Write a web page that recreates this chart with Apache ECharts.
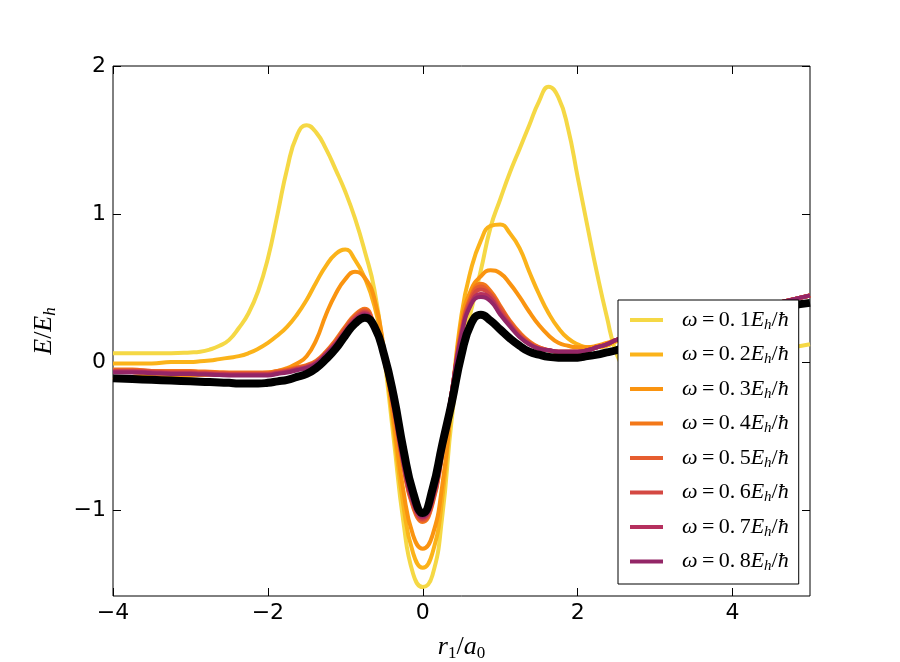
<!DOCTYPE html>
<html>
<head>
	<meta http-equiv="Content-Type" content="text/html;charset=utf-8">
	<title>E / Eh vs r1 / a0</title>
	<style>
		html, body { margin: 0; padding: 0; background: #fff; }
		#chart { width: 900px; height: 662px; }
	</style>
</head>
<body>
<div id="chart"></div>

<script src="https://cdn.jsdelivr.net/npm/echarts@6/dist/echarts.min.js"></script>
<script>
	// r1/a0 grid shared by all curves (finer between -3 and 3)
	var xs = [-4,-3.75,-3.5,-3.25,-3,
		-2.875,-2.75,-2.625,
		-2.5,-2.375,-2.25,-2.125,-2,-1.875,-1.75,-1.625,-1.5,-1.375,-1.25,-1.125,-1,-0.875,-0.75,-0.625,-0.5,-0.375,-0.25,-0.125,
		0,
		0.125,0.25,0.375,0.5,0.625,0.75,0.875,1,1.125,1.25,1.375,1.5,1.625,1.75,1.875,2,2.125,2.25,2.375,2.5,
		2.625,2.75,2.875,
		3,3.25,3.5,3.75,4,4.25,4.5,4.75,5];

	var w01 = [0.06,0.06,0.06,0.06,0.065,
		0.07,0.085,0.11,
		0.15,0.23,0.33,0.48,0.70,1.00,1.31,1.53,1.60,1.55,1.44,1.30,1.15,0.97,0.75,0.49,0.04,-0.52,-1.08,-1.43,
		-1.52,
		-1.44,-1.05,-0.38,0.08,0.35,0.62,0.91,1.10,1.28,1.44,1.60,1.76,1.86,1.79,1.58,1.25,0.92,0.60,0.31,0.06,
		-0.04,-0.07,-0.06,
		-0.04,-0.01,0.02,0.04,0.06,0.08,0.09,0.10,0.12];
	var w02 = [-0.01,-0.01,-0.01,0.0,0.0,
		0.005,0.01,0.02,
		0.03,0.04,0.06,0.09,0.13,0.18,0.24,0.32,0.42,0.54,0.65,0.73,0.76,0.69,0.57,0.38,0.06,-0.45,-0.97,-1.29,
		-1.39,
		-1.29,-0.93,-0.25,0.32,0.63,0.82,0.92,0.93,0.87,0.77,0.61,0.46,0.33,0.23,0.16,0.12,0.10,0.10,0.11,0.14,
		0.16,0.18,0.195,
		0.21,0.24,0.27,0.30,0.33,0.36,0.39,0.42,0.45];
	var w03 = [-0.12,-0.10,-0.09,-0.09,-0.09,
		-0.088,-0.085,-0.083,
		-0.08,-0.08,-0.08,-0.075,-0.07,-0.06,-0.04,-0.01,0.04,0.15,0.32,0.46,0.56,0.61,0.57,0.43,0.08,-0.40,-0.87,-1.17,
		-1.26,
		-1.17,-0.84,-0.27,0.27,0.49,0.58,0.62,0.60,0.53,0.44,0.34,0.25,0.18,0.13,0.11,0.10,0.10,0.11,0.13,0.15,
		0.165,0.18,0.195,
		0.21,0.24,0.27,0.30,0.33,0.36,0.39,0.42,0.45];
	var w04 = [-0.05,-0.05,-0.06,-0.06,-0.06,
		-0.063,-0.065,-0.068,
		-0.07,-0.07,-0.07,-0.07,-0.07,-0.06,-0.05,-0.035,-0.02,0.01,0.07,0.15,0.24,0.32,0.36,0.24,0.02,-0.33,-0.71,-0.98,
		-1.08,
		-0.96,-0.63,-0.20,0.22,0.45,0.53,0.48,0.38,0.28,0.20,0.14,0.10,0.08,0.07,0.07,0.07,0.08,0.10,0.12,0.15,
		0.165,0.18,0.195,
		0.21,0.24,0.27,0.30,0.33,0.36,0.39,0.42,0.45];
	var w05 = [-0.055,-0.055,-0.06,-0.065,-0.065,
		-0.068,-0.07,-0.073,
		-0.075,-0.075,-0.075,-0.075,-0.075,-0.065,-0.055,-0.04,-0.025,0.005,0.065,0.14,0.23,0.31,0.35,0.24,0.02,-0.32,-0.70,-0.97,
		-1.07,
		-0.95,-0.62,-0.20,0.21,0.44,0.51,0.46,0.37,0.27,0.19,0.13,0.10,0.08,0.07,0.07,0.07,0.08,0.10,0.12,0.15,
		0.165,0.18,0.195,
		0.21,0.24,0.27,0.30,0.33,0.36,0.39,0.42,0.45];
	var w06 = [-0.06,-0.06,-0.065,-0.07,-0.07,
		-0.073,-0.075,-0.078,
		-0.08,-0.08,-0.08,-0.08,-0.08,-0.07,-0.06,-0.045,-0.03,0.0,0.06,0.13,0.22,0.30,0.34,0.23,0.02,-0.31,-0.69,-0.96,
		-1.06,
		-0.94,-0.61,-0.20,0.20,0.42,0.49,0.45,0.35,0.26,0.18,0.13,0.09,0.08,0.07,0.07,0.07,0.08,0.10,0.12,0.15,
		0.165,0.18,0.195,
		0.21,0.24,0.27,0.30,0.33,0.36,0.39,0.42,0.45];
	var w07 = [-0.065,-0.065,-0.07,-0.075,-0.075,
		-0.078,-0.08,-0.083,
		-0.085,-0.085,-0.085,-0.085,-0.085,-0.075,-0.065,-0.05,-0.035,-0.005,0.055,0.125,0.21,0.29,0.33,0.23,0.02,-0.30,-0.68,-0.95,
		-1.05,
		-0.93,-0.60,-0.20,0.19,0.40,0.46,0.43,0.33,0.25,0.17,0.12,0.09,0.08,0.07,0.07,0.07,0.08,0.10,0.12,0.15,
		0.165,0.18,0.195,
		0.21,0.24,0.27,0.30,0.33,0.36,0.39,0.42,0.45];
	var w08 = [-0.07,-0.07,-0.075,-0.08,-0.08,
		-0.083,-0.085,-0.088,
		-0.09,-0.09,-0.09,-0.09,-0.09,-0.08,-0.07,-0.055,-0.04,-0.01,0.05,0.12,0.20,0.28,0.32,0.22,0.02,-0.29,-0.67,-0.94,
		-1.04,
		-0.92,-0.59,-0.20,0.18,0.39,0.44,0.41,0.32,0.24,0.17,0.12,0.09,0.08,0.07,0.07,0.07,0.08,0.10,0.12,0.15,
		0.165,0.18,0.195,
		0.21,0.24,0.27,0.30,0.33,0.36,0.39,0.42,0.45];
	// black reference curve (no legend entry)
	var wRef = [-0.11,-0.115,-0.12,-0.125,-0.13,
		-0.133,-0.135,-0.138,
		-0.14,-0.145,-0.145,-0.145,-0.14,-0.13,-0.12,-0.10,-0.08,-0.04,0.02,0.09,0.18,0.26,0.30,0.24,0.05,-0.23,-0.59,-0.88,
		-1.02,
		-0.86,-0.56,-0.27,0.05,0.26,0.32,0.28,0.22,0.16,0.11,0.07,0.05,0.035,0.03,0.03,0.03,0.04,0.05,0.065,0.08,
		0.105,0.13,0.15,
		0.17,0.20,0.23,0.26,0.29,0.32,0.35,0.38,0.40];

	var omegas = ['0.1','0.2','0.3','0.4','0.5','0.6','0.7','0.8'];
	var curves = [w01, w02, w03, w04, w05, w06, w07, w08];
	var colors = ['#f5d845','#fbb31a','#fa9410','#f37819','#e65d2f','#d44842','#b5305e','#932667'];

	var xTicks = [-4, -2, 0, 2, 4];
	var yTicks = [-1, 0, 1, 2];

	function pairs(ys) {
		var out = [];
		for (var i = 0; i < xs.length; i++) {
			out.push([xs[i], ys[i]]);
		}
		return out;
	}

	function minus(v) {
		return String(v).replace('-', '\u2212');
	}

	var series = [];
	for (var i = 0; i < curves.length; i++) {
		series.push({
			name: omegas[i],
			type: 'line',
			data: pairs(curves[i]),
			smooth: 0.5,
			showSymbol: false,
			color: colors[i],
			lineStyle: { width: 4, color: colors[i], join: 'round' },
			z: 2 + i
		});
	}
	series.push({
		name: 'ref',
		type: 'line',
		data: pairs(wRef),
		smooth: 0.5,
		showSymbol: false,
		color: '#000',
		lineStyle: { width: 8, color: '#000', join: 'round' },
		z: 20
	});

	var serif = '"Liberation Serif", "DejaVu Serif", serif';
	var mathRich = {
		i: { fontFamily: serif, fontStyle: 'italic', fontSize: 26, color: '#000' },
		n: { fontFamily: serif, fontSize: 26, color: '#000' },
		s: { fontFamily: serif, fontStyle: 'italic', fontSize: 17, color: '#000', padding: [12, 0, 0, 0] },
		s0: { fontFamily: serif, fontSize: 17, color: '#000', padding: [12, 0, 0, 0] }
	};
	var legendRich = {
		i: { fontFamily: serif, fontStyle: 'italic', fontSize: 22, color: '#000' },
		n: { fontFamily: serif, fontSize: 22, color: '#000' },
		s: { fontFamily: serif, fontStyle: 'italic', fontSize: 15, color: '#000', padding: [10, 0, 0, 0] }
	};

	var axisBase = {
		type: 'value',
		axisLine: { show: false, onZero: false },
		splitLine: { show: false }
	};
	var tickStyle = { inside: true, length: 8, lineStyle: { color: '#000', width: 1 } };

	var option = {
		animation: false,
		backgroundColor: '#fff',
		grid: {
			left: 113, right: 90, top: 66, bottom: 66,
			containLabel: false,
			outerBoundsMode: 'none',
			show: true, borderColor: '#000', borderWidth: 1, backgroundColor: 'transparent'
		},
		xAxis: [
			Object.assign({}, axisBase, {
				min: -4, max: 5,
				position: 'bottom',
				name: '{i|r}{s0|1}{n|/}{i|a}{s0|0}',
				nameLocation: 'middle',
				nameGap: 37,
				nameTextStyle: { rich: mathRich },
				axisTick: Object.assign({ customValues: xTicks }, tickStyle),
				axisLabel: {
					customValues: xTicks,
					margin: 6,
					fontFamily: '"DejaVu Sans", sans-serif',
					fontSize: 22,
					color: '#000',
					formatter: minus
				}
			}),
			Object.assign({}, axisBase, {
				min: -4, max: 5,
				position: 'top',
				axisTick: Object.assign({ customValues: xTicks }, tickStyle),
				axisLabel: { show: false }
			})
		],
		yAxis: [
			Object.assign({}, axisBase, {
				min: -1.58, max: 2,
				position: 'left',
				name: '{i|E}{n|/}{i|E}{s|h}',
				nameLocation: 'middle',
				nameGap: 54,
				nameTextStyle: { rich: mathRich },
				axisTick: Object.assign({ customValues: yTicks }, tickStyle),
				axisLabel: {
					customValues: yTicks,
					margin: 7,
					fontFamily: '"DejaVu Sans", sans-serif',
					fontSize: 22,
					color: '#000',
					formatter: minus
				}
			}),
			Object.assign({}, axisBase, {
				min: -1.58, max: 2,
				position: 'right',
				axisTick: Object.assign({ customValues: yTicks }, tickStyle),
				axisLabel: { show: false }
			})
		],
		legend: {
			data: omegas,
			orient: 'vertical',
			left: 618,
			top: 300,
			padding: [9, 10, 10, 12],
			itemGap: 11,
			itemWidth: 33,
			itemHeight: 4,
			icon: 'rect',
			backgroundColor: '#fff',
			borderColor: '#000',
			borderWidth: 1,
			borderRadius: 0,
			textStyle: { rich: legendRich, padding: [0, 0, 0, 14] },
			formatter: function (name) {
				var d = name.split('.');
				return '{i|\u03c9}{n|\u2009=\u2009' + d[0] + '.\u2009' + d[1] + '}{i|E}{s|h}{n|/}{i|\u0127}';
			},
			z: 50
		},
		series: series
	};

	var myChart = echarts.init(document.getElementById('chart'));
	myChart.setOption(option);
</script>
</body>
</html>
